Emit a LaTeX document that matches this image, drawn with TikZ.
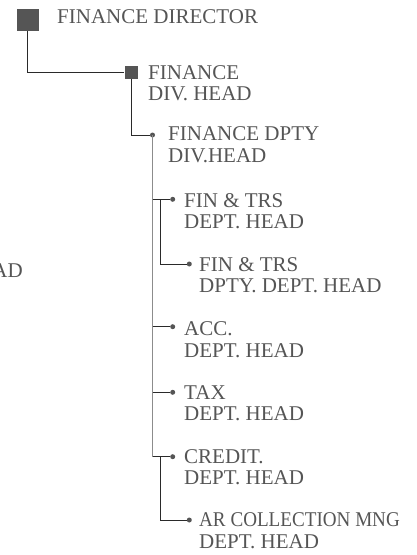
\documentclass[tikz,border=0pt]{standalone}
\usepackage{fontspec}
\setmainfont{Liberation Serif}
\definecolor{ink}{HTML}{555555}
\definecolor{wire}{HTML}{2A2A2A}
\definecolor{trunk}{HTML}{8C8C8C}
\begin{document}
\begin{tikzpicture}[x=1pt,y=-1pt,
  box/.style = {fill=ink, inner sep=0pt, minimum size=#1},
  dot/.style = {circle, fill=ink, inner sep=0pt, minimum size=5pt},
  lbl/.style = {anchor=base west, align=left, text=ink, inner sep=0pt,
    font=\fontsize{21}{21.5}\selectfont},
  link/.style = {draw=wire, line width=0.8pt}]
\useasboundingbox (0,0) rectangle (417,555);
% markers
\node[box=22pt] (1) at (27.5,20) {};
\node[box=13pt] (2) at (131,72.5) {};
\node[dot] (3) at (152.5,135) {};
\node[dot] (4) at (172.7,199.3) {};
\node[dot] (5) at (189.3,264) {};
\node[dot] (6) at (172.7,326.7) {};
\node[dot] (7) at (172.7,392.3) {};
\node[dot] (8) at (172.7,456.7) {};
\node[dot] (9) at (189.3,520) {};
% labels (base = last line)
\node[lbl] (t1) at (57,23) {FINANCE DIRECTOR};
\node[lbl] (t2) at (148,100.5) {FINANCE\\DIV. HEAD};
\node[lbl] (t3) at (168,162) {FINANCE DPTY\\DIV.HEAD};
\node[lbl] (t4) at (184,228.5) {FIN \& TRS\\DEPT. HEAD};
\node[lbl] (t5) at (199,292.5) {FIN \& TRS\\DPTY. DEPT. HEAD};
\node[lbl] (t6) at (184,357) {ACC.\\DEPT. HEAD};
\node[lbl] (t7) at (184,420.5) {TAX\\DEPT. HEAD};
\node[lbl] (t8) at (184,484.5) {CREDIT.\\DEPT. HEAD};
\node[lbl] (t9) at (199,548) {\scalebox{0.91}[1]{AR COLLECTION MNG}\\DEPT. HEAD};
\node[lbl, anchor=base east] (t0) at (23,277) {AD};
% connectors
\coordinate (s4) at (160.7,199.3);
\coordinate (s8) at (160.7,456.7);
\draw[trunk, line width=1.2pt] (3.center) -- (3 |- 8);
\draw[link] (1.south) |- (2.west);
\draw[link] (2.south) |- (3);
\draw[link] (3 |- 4) -- (4);
\draw[link] (3 |- 6) -- (6);
\draw[link] (3 |- 7) -- (7);
\draw[link] (3 |- 8) -- (8);
\draw[link] (s4) |- (5);
\draw[link] (s8) |- (9);
\end{tikzpicture}
\end{document}
